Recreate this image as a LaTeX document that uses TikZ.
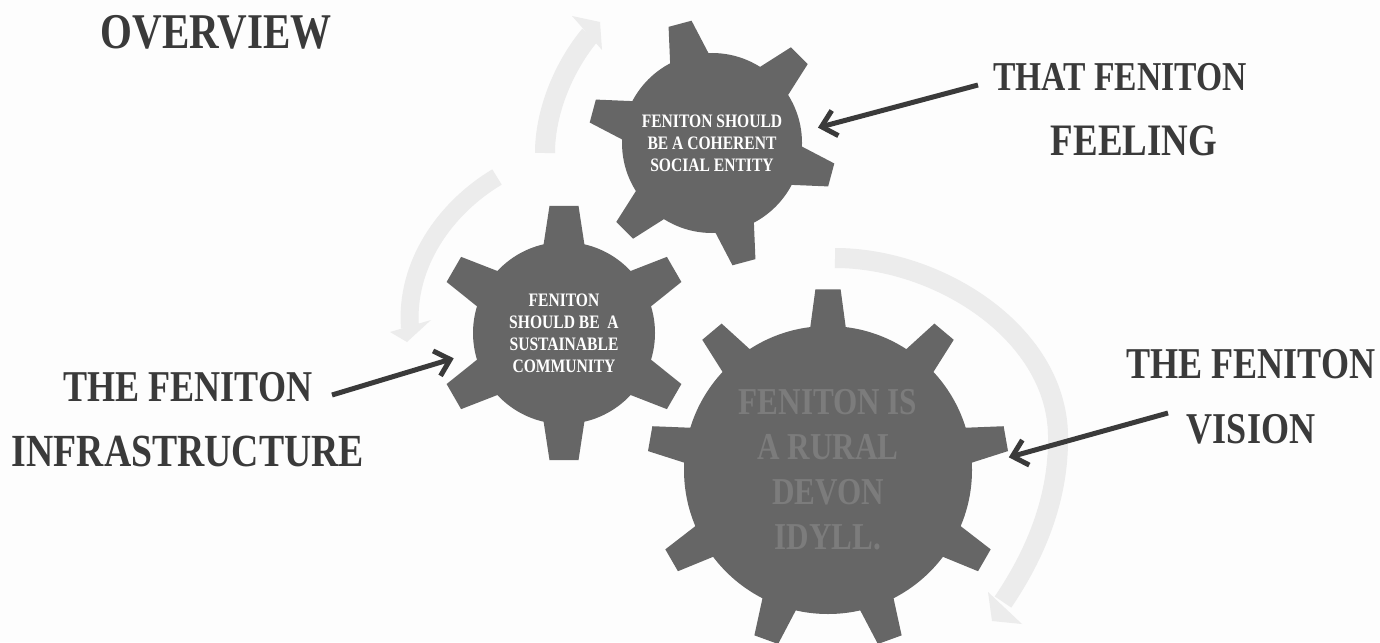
\documentclass[tikz,border=0pt]{standalone}
\usepackage{fontspec}
\usetikzlibrary{arrows.meta,calc}
\setmainfont{Liberation Serif}
\newfontfamily\algfont[FakeStretch=0.82]{Liberation Serif}
\definecolor{paper}{HTML}{FDFDFD}
\definecolor{gearcol}{HTML}{666666}
\definecolor{bandcol}{HTML}{ECECEC}
\definecolor{inkcol}{HTML}{3A3A3A}
\definecolor{dimtext}{HTML}{7C7C7C}
\newcommand{\geartooth}[5]{% angle, body r, tip r, base half angle, tip half angle
  \fill[gearcol] (#1-#4:#2pt) -- (#1-#5:#3pt) -- (#1+#5:#3pt) -- (#1+#4:#2pt) -- cycle;}
\tikzset{
  gear/.style={circle,fill=gearcol,inner sep=0pt,align=center},
  biglabel/.style={inner sep=0pt,align=center,text=inkcol,font=\algfont\bfseries\fontsize{44}{65}\selectfont},
  flow/.style={line width=20pt,color=bandcol},
  flowhead/.style={fill=bandcol},
  pointer/.style={draw=inkcol,line width=5pt,-{Straight Barb[length=14pt,width=26pt,line width=5pt]}},
}
\begin{document}
\begin{tikzpicture}[x=1pt,y=-1pt]
\useasboundingbox (0,0) rectangle (1380,642);
\fill[paper] (0,0) rectangle (1380,642);
% flow bands
\draw[flow] (835,258) .. controls (940,258) and (1060,335) .. (1058,440) .. controls (1058,500) and (1035,555) .. (1003,602);
\fill[flowhead] (988,592) -- (1022,624) -- (992,621) -- cycle;
\draw[flow,line width=18pt] (497,177) .. controls (445,208) and (405,265) .. (410,328);
\fill[flowhead] (390,332) -- (431,320) -- (407,342) -- cycle;
\draw[flow,line width=20pt] (545,153) .. controls (545,110) and (565,65) .. (590,35);
\fill[flowhead] (572,16) -- (600,22) -- (602,50) -- cycle;
% gears
\node[gear,minimum size=180pt,text=white,font=\algfont\bfseries\fontsize{19}{22}\selectfont] (g1) at (712,143) {FENITON SHOULD\\BE A COHERENT\\SOCIAL ENTITY};
\begin{scope}[shift={(g1.center)}]
  \foreach \a in {105,45,-15,-75,-135,165} {\geartooth{\a}{86}{124}{14}{5.5}}
\end{scope}
\node[gear,minimum size=182pt,text=white,font=\algfont\bfseries\fontsize{19}{22}\selectfont] (g2) at (564,333) {FENITON\\SHOULD BE\ \ A\\SUSTAINABLE\\COMMUNITY};
\begin{scope}[shift={(g2.center)}]
  \foreach \a in {90,30,-30,-90,-150,150} {\geartooth{\a}{87}{128}{14}{6.5}}
\end{scope}
\node[gear,minimum size=288pt,text=dimtext,font=\algfont\bfseries\fontsize{38}{45}\selectfont] (g3) at (828,470) {FENITON IS\\A RURAL\\DEVON\\IDYLL.};
\begin{scope}[shift={(g3.center)}]
  \foreach \a in {90,50,10,-30,-70,-110,-150,170,130} {\geartooth{\a}{140}{181}{7.5}{4}}
\end{scope}
% labels
\node[inner sep=0pt,text=inkcol,font=\algfont\bfseries\fontsize{50}{60}\selectfont] (title) at (216,32) {OVERVIEW};
\node[biglabel] (lab1) at (1120,110) {\fontsize{41}{65}\selectfont THAT FENITON\\\fontsize{45}{65}\selectfont\hspace*{28pt}FEELING};
\node[biglabel] (lab2) at (188,420) {THE FENITON\\\fontsize{46}{65}\selectfont INFRASTRUCTURE};
\node[biglabel] (lab3) at (1251,397) {THE FENITON\\VISION};
% pointers
\coordinate (s1) at (978,85);
\coordinate (s2) at (332,395);
\coordinate (s3) at (1168,413);
\draw[pointer,shorten >=17pt] (s1) -- (g1.7);
\draw[pointer,shorten >=22pt] (s2) -- (g2.192);
\draw[pointer,shorten >=38pt] (s3) -- (g3.1);
\end{tikzpicture}
\end{document}
